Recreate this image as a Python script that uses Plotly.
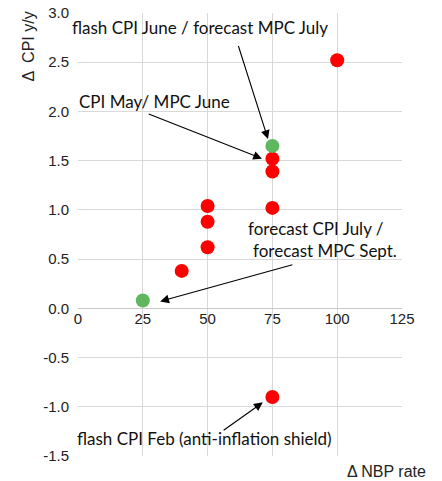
import plotly.graph_objects as go

# data
red_x = [100, 75, 75, 75, 50, 50, 50, 40, 75]
red_y = [2.52, 1.52, 1.39, 1.02, 1.04, 0.88, 0.62, 0.38, -0.90]
green_x = [75, 25]
green_y = [1.65, 0.08]
x_ticks = [0, 25, 50, 75, 100, 125]
y_ticks = [-1.5, -1.0, -0.5, 0.0, 0.5, 1.0, 1.5, 2.0, 2.5, 3.0]

W, H = 442, 481
L, R, T, B = 77.5, 40, 13, 25
PW, PH = W - L - R, H - T - B


def px_to_paper(px, py):
    return (px - L) / PW, 1 - (py - T) / PH


fig = go.Figure()
fig.add_trace(go.Scatter(x=red_x, y=red_y, mode="markers",
                         marker=dict(color="#FF0000", size=14), showlegend=False))
fig.add_trace(go.Scatter(x=green_x, y=green_y, mode="markers",
                         marker=dict(color="#5FB760", size=14), showlegend=False))

afont = dict(family="Lato", size=17, color="#111111")
axfont = dict(family="Liberation Sans, Arial, sans-serif", size=15, color="#222222")

texts = [
    ("flash CPI June / forecast MPC July", 47.1, 2.856),
    ("CPI May/ MPC June", 29.6, 2.10),
    ("forecast CPI July /", 91.7, 0.815),
    ("forecast MPC Sept.", 95.2, 0.59),
    ("flash CPI Feb (anti-inflation shield)", 48.7, -1.32),
]
for t, x, y in texts:
    fig.add_annotation(x=x, y=y, xref="x", yref="y", text=t, showarrow=False,
                       font=afont, xanchor="center", yanchor="middle")

arrows = [
    (73.3, 1.72, 61.7, 2.68),
    (71.0, 1.52, 26.7, 1.98),
    (31.7, 0.07, 83.3, 0.447),
    (71.3, -0.955, 55.6, -1.25),
]
for hx, hy, tx, ty in arrows:
    fig.add_annotation(x=hx, y=hy, ax=tx, ay=ty, xref="x", yref="y",
                       axref="x", ayref="y", text="", showarrow=True,
                       arrowhead=2, arrowsize=1.6, arrowwidth=1.1,
                       arrowcolor="black")

yx, yy = px_to_paper(28, 47)
fig.add_annotation(x=yx, y=yy, xref="paper", yref="paper",
                   xanchor="center", yanchor="middle",
                   text="Δ  CPI y/y", showarrow=False, textangle=-90,
                   font=dict(family="Liberation Sans, Arial, sans-serif", size=16, color="#222222"))
xx, xy = px_to_paper(386, 471)
fig.add_annotation(x=xx, y=xy, xref="paper", yref="paper",
                   xanchor="center", yanchor="middle",
                   text="Δ NBP rate", showarrow=False,
                   font=dict(family="Liberation Sans, Arial, sans-serif", size=16, color="#222222"))

fig.update_xaxes(range=[0, 125], tickvals=x_ticks, ticktext=[str(v) for v in x_ticks],
                 showgrid=True, gridcolor="#D9D9D9", gridwidth=1,
                 zeroline=False, showline=False, ticks="", automargin=False,
                 anchor="free", position=1.5 / 4.5, tickfont=axfont)
fig.update_yaxes(range=[-1.5, 3.0], tickvals=y_ticks,
                 ticktext=[f"{v:.1f}" for v in y_ticks],
                 showgrid=True, gridcolor="#D9D9D9", gridwidth=1,
                 zeroline=True, zerolinecolor="#C8C8C8", zerolinewidth=1,
                 showline=False, ticks="", ticklabelstandoff=8, automargin=False,
                 tickfont=axfont)

fig.update_layout(width=W, height=H, margin=dict(l=L, r=R, t=T, b=B, autoexpand=False),
                  plot_bgcolor="white", paper_bgcolor="white")

fig.write_html("out.html", config={"displayModeBar": False},
               post_script="document.body.style.margin='0';document.body.style.overflow='hidden';")
